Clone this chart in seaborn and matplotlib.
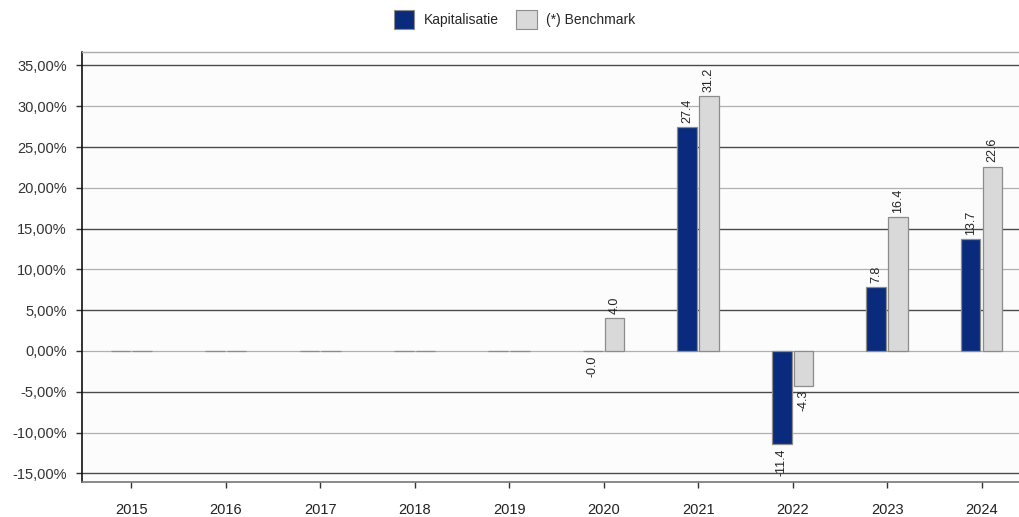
import numpy as np
import pandas as pd
import matplotlib
matplotlib.use("Agg")
import matplotlib.pyplot as plt
from matplotlib.patches import Patch
import seaborn as sns

# Annual returns (%)
years = ["2015", "2016", "2017", "2018", "2019", "2020", "2021", "2022", "2023", "2024"]
kapitalisatie = [0.0, 0.0, 0.0, 0.0, 0.0, -0.02, 27.4, -11.4, 7.8, 13.7]
benchmark = [0.0, 0.0, 0.0, 0.0, 0.0, 4.0, 31.2, -4.3, 16.4, 22.6]
labelled_years = ["2020", "2021", "2022", "2023", "2024"]
series_names = ["Kapitalisatie", "(*) Benchmark"]
y_ticks = [35, 30, 25, 20, 15, 10, 5, 0, -5, -10, -15]

colors = {"Kapitalisatie": "#0a2b7d", "(*) Benchmark": "#d9d9d9"}

sns.set_style("white")
plt.rcParams["font.family"] = ["Liberation Sans", "DejaVu Sans"]

df = pd.DataFrame({
    "year": years * 2,
    "value": kapitalisatie + benchmark,
    "series": [series_names[0]] * len(years) + [series_names[1]] * len(years),
})

fig = plt.figure(figsize=(10.19, 5.17), dpi=100)
ax = fig.add_axes([0.0805, 0.0677, 0.931, 0.8317])
ax.set_facecolor("#fcfcfc")

# Grid lines: alternating dark / light
for t in y_ticks:
    dark = (t % 10) != 0
    ax.axhline(t, color="#4a4a4a" if dark else "#b0b0b0",
               lw=1.0 if dark else 0.9, zorder=0.5)

sns.barplot(data=df, x="year", y="value", hue="series", order=years,
            hue_order=series_names, palette=colors, saturation=1, width=0.46, gap=0.1,
            edgecolor="#8c8c8c", linewidth=0.9, legend=False, ax=ax, zorder=2)

# Value labels, rotated, on the labelled years
for container, name in zip(ax.containers, series_names):
    for bar, yr, val in zip(container, years, df.loc[df.series == name, "value"]):
        if yr not in labelled_years:
            continue
        x = bar.get_x() + bar.get_width() / 2
        if val >= 0:
            ax.annotate(f"{val:.1f}", (x, val), xytext=(0, 3), textcoords="offset points",
                        rotation=90, ha="center", va="bottom", fontsize=9, color="#222222")
        else:
            ax.annotate(f"{val:.1f}", (x, val), xytext=(0, -3), textcoords="offset points",
                        rotation=90, ha="center", va="top", fontsize=9, color="#222222")

ax.set_xlim(-0.52, 9.52)
ax.set_ylim(-16.06, 36.65)
ax.set_yticks(y_ticks)
ax.set_yticklabels([f"{t:.2f}".replace(".", ",") + "%" for t in y_ticks],
                   fontsize=10.5, color="#333333")
ax.set_xlabel("")
ax.set_ylabel("")
ax.tick_params(axis="y", which="major", direction="out", length=4, width=1,
               color="#333333", pad=7, left=True)
ax.tick_params(axis="x", which="major", direction="out", length=4, width=1,
               color="#333333", pad=11, labelsize=10.5, labelcolor="#222222", bottom=True)

for side in ["top", "right"]:
    ax.spines[side].set_color("#aaaaaa")
    ax.spines[side].set_linewidth(1.0)
ax.spines["left"].set_color("#111111")
ax.spines["left"].set_linewidth(1.2)
ax.spines["bottom"].set_color("#777777")
ax.spines["bottom"].set_linewidth(1.2)

handles = [Patch(facecolor=colors[n], edgecolor="#8c8c8c", linewidth=0.8) for n in series_names]
fig.legend(handles, series_names, loc="upper center", bbox_to_anchor=(0.505, 1.005),
           ncol=2, frameon=False, fontsize=10, handlelength=1.5, handleheight=1.7,
           columnspacing=1.2, handletextpad=0.7)

fig.savefig("out.png", dpi=100, facecolor="white")
